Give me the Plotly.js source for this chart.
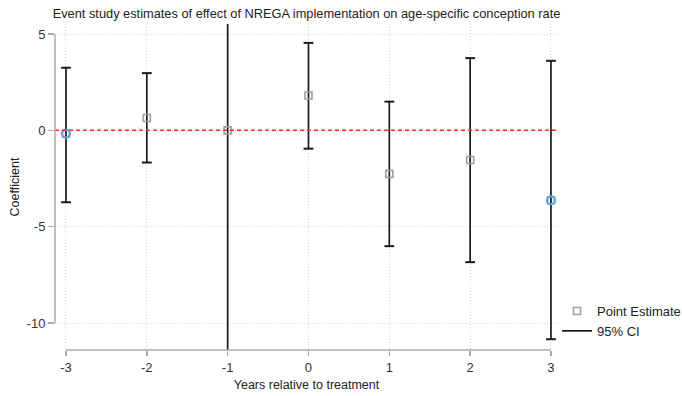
<!DOCTYPE html>
<html>
<head>
<meta charset="utf-8">
<script src="https://cdn.plot.ly/plotly-3.0.1.min.js"></script>
<style>html,body{margin:0;padding:0;background:#fff;}#chart{width:682px;height:396px;}</style>
</head>
<body>
<div id="chart"></div>
<script>
var years = [-3, -2, -1, 0, 1, 2, 3];
var coef = [-0.18, 0.64, 0, 1.81, -2.26, -1.54, -3.63];
var ciLow = [-3.73, -1.67, -15, -0.95, -6.01, -6.84, -10.84];
var ciHigh = [3.25, 2.97, 15, 4.54, 1.49, 3.75, 3.61];
var highlightYears = [-3, 3];
var xTicks = [-3, -2, -1, 0, 1, 2, 3];
var yTicks = [-10, -5, 0, 5];

var segX = [], segY = [], capX = [], capY = [];
for (var i = 0; i < years.length; i++) {
  segX.push(years[i], years[i], null);
  segY.push(ciLow[i], ciHigh[i], null);
  capX.push(years[i], years[i]);
  capY.push(ciLow[i], ciHigh[i]);
}
var hlY = highlightYears.map(function (yr) { return coef[years.indexOf(yr)]; });

var font = 'Liberation Sans, Arial, sans-serif';
var traces = [
  {x: segX, y: segY, mode: 'lines', name: '95% CI', line: {color: '#1a1a1a', width: 1.7}, showlegend: true},
  {x: capX, y: capY, mode: 'markers', showlegend: false, hoverinfo: 'skip',
   marker: {symbol: 'line-ew', size: 7, line: {color: '#1a1a1a', width: 2}}},
  {x: years, y: coef, mode: 'markers', name: 'Point Estimate',
   marker: {symbol: 'square-open', size: 7, color: '#a0a0a0', line: {color: '#a0a0a0', width: 1.6}}},
  {x: highlightYears, y: hlY, mode: 'markers', showlegend: false,
   marker: {symbol: 'circle-open', size: 8, color: '#4fa3dc', line: {color: '#4fa3dc', width: 2}}}
];

var layout = {
  width: 682, height: 396,
  margin: {l: 55, r: 124, t: 24, b: 46, autoexpand: false},
  paper_bgcolor: '#fff', plot_bgcolor: '#fff',
  font: {family: font, size: 12, color: '#222'},
  title: {text: 'Event study estimates of effect of NREGA implementation on age-specific conception rate',
          font: {family: font, size: 12.8, color: '#222'}, x: 0.5, xref: 'paper',
          y: 1 - 14 / 396, yref: 'container', yanchor: 'middle'},
  xaxis: {range: [-3.136, 3.087], tickvals: xTicks, ticktext: xTicks.map(String),
          showline: false, zeroline: false, showgrid: true, gridcolor: '#d4d4d4', griddash: '1px,2px', gridwidth: 1,
          ticks: 'outside', ticklen: 5, tickcolor: '#aaa', tickwidth: 1.5,
          tickfont: {family: font, size: 13, color: '#333'},
          title: {text: 'Years relative to treatment', font: {family: font, size: 12.5, color: '#222'}, standoff: 6}},
  yaxis: {range: [-11.40, 5.52], tickvals: yTicks, ticktext: yTicks.map(String),
          showline: false, zeroline: false, showgrid: true, gridcolor: '#d4d4d4', griddash: '1px,2px', gridwidth: 1,
          ticks: 'outside', ticklen: 6, tickcolor: '#aaa', tickwidth: 1.5,
          tickfont: {family: font, size: 13, color: '#333'},
          title: {text: 'Coefficient', font: {family: font, size: 12.5, color: '#222'}, standoff: 4}},
  legend: {xref: 'container', yref: 'container', x: 557 / 682, xanchor: 'left', y: 1 - 296 / 396, yanchor: 'top',
           traceorder: 'reversed',
           font: {family: font, size: 13, color: '#222'}, bgcolor: 'rgba(0,0,0,0)', itemwidth: 30},
  shapes: [
    {type: 'line', xref: 'paper', x0: 0, x1: 1, yref: 'y', y0: 0, y1: 0,
     line: {color: '#ff2a2a', width: 1.5, dash: '4px,3px'}},
    {type: 'line', xref: 'x', x0: -3, x1: 3, yref: 'paper', y0: 0, y1: 0,
     line: {color: '#aaa', width: 1.5}},
    {type: 'line', xref: 'paper', x0: 0, x1: 0, yref: 'y', y0: -10, y1: 5,
     line: {color: '#aaa', width: 1.5}}
  ],
  showlegend: true
};

Plotly.newPlot('chart', traces, layout, {displayModeBar: false, staticPlot: true});
</script>
</body>
</html>
